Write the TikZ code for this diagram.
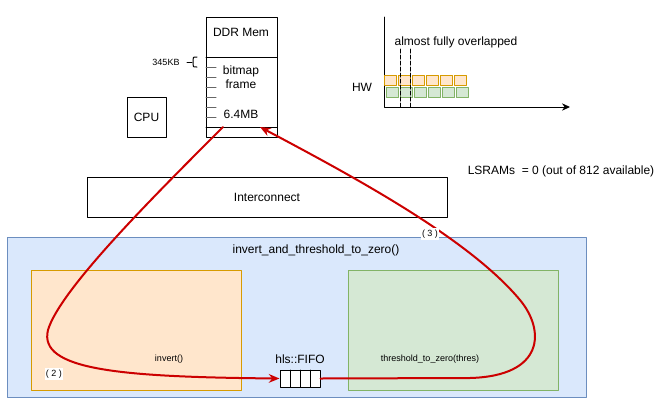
\documentclass[tikz,border=0pt]{standalone}
\usepackage{fontspec}
\setmainfont{Liberation Sans}
\usetikzlibrary{arrows.meta}
\definecolor{flowred}{HTML}{CC0000}
\definecolor{bluefill}{HTML}{DAE8FC}
\definecolor{blueline}{HTML}{6C8EBF}
\definecolor{orangefill}{HTML}{FFE6CC}
\definecolor{orangeline}{HTML}{D79B00}
\definecolor{greenfill}{HTML}{D5E8D4}
\definecolor{greenline}{HTML}{82B366}
\begin{document}
\begin{tikzpicture}[line cap=round, line join=round, x=0.75pt, y=-0.75pt,
        box/.style={draw, line width=0.75pt, inner sep=0pt, font=\fontsize{9}{11}\selectfont},
        small/.style={inner sep=1pt, font=\fontsize{6.75}{8}\selectfont},
        label/.style={inner sep=0.5pt, font=\fontsize{9}{11}\selectfont},
        flow/.style={draw=flowred, line width=1.5pt, -{Stealth[length=8pt, width=6.5pt]}}]
                \useasboundingbox (0, 0) rectangle (669, 405);
                % memory and bus
                \node[box, minimum width=53.25pt, minimum height=90pt] (ddr) at (241.5, 77) {};
                \draw[line width=0.75pt] (206, 57) -- (277, 57) (206, 127) -- (277, 127);
                \foreach \y in {67, 77, 87, 97, 107, 117}
                    \draw[black!60, line width=0.75pt] (206, \y) -- (216, \y);
                \node[box, minimum width=29.25pt, minimum height=30pt] (cpu) at (146.5, 117) {CPU};
                \node[box, minimum width=270pt, minimum height=30pt] (bus) at (267, 197) {Interconnect};
                \foreach \name/\x/\y/\text in {ddrname/241/32/DDR Mem, bitmap/241/71/bitmap, frame/241/84/frame, size/241/114/6.4MB,
                        lsram/561/171/LSRAMs~ = 0 (out of 812 available), overlap/456/42/almost fully overlapped, hw/362/87/HW}
                    \node[label] (\name) at (\x, \y) {\text};
                \node[small] (part) at (166, 62) {345KB};
                \draw[line width=0.75pt] (187, 62) -- (192, 62);
                \draw[line width=0.75pt] (197, 57) .. controls (193, 57) .. (193, 60) -- (193, 64) .. controls (193, 67) .. (197, 67);
                % timeline
                \draw[line width=0.75pt, -{Stealth[length=6pt, width=5.5pt]}] (384, 17) -- (384, 107) -- (570, 107);
                \foreach \i in {0, ..., 5} {
                    \draw[draw=orangeline, fill=orangefill, line width=0.75pt] (384 + 14*\i, 75.5) rectangle +(12, 9.5);
                    \draw[draw=greenline, fill=greenfill, line width=0.75pt] (386 + 14*\i, 87.5) rectangle +(12.5, 10);
                }
                \foreach \x in {400, 410}
                    \draw[line width=0.75pt, dash pattern=on 3pt off 1.5pt] (\x, 49) -- (\x, 107);
                % kernel
                \node[box, draw=blueline, fill=bluefill, minimum width=434.25pt, minimum height=120pt] (kernel) at (296.5, 317.5) {};
                \node[label] (kname) at (316, 250) {invert\_and\_threshold\_to\_zero()};
                \node[box, draw=orangeline, fill=orangefill, minimum width=157.5pt, minimum height=90pt] (inv) at (136, 330) {};
                \node[box, draw=greenline, fill=greenfill, minimum width=157.5pt, minimum height=90pt] (thr) at (453, 330) {};
                \node[small] (invname) at (169, 359) {invert()};
                \node[small] (thrname) at (430, 359) {threshold\_to\_zero(thres)};
                \node[label] (fifoname) at (300, 359) {hls::FIFO};
                \node[box, fill=white, minimum width=30pt, minimum height=12.75pt] (fifo) at (300, 378.5) {};
                \foreach \x in {290, 300, 310}
                    \draw[line width=0.75pt] (\x, 370) -- (\x, 387);
                % data flow
                \coordinate (rd) at (223, 127);
                \coordinate (wr) at (260, 127);
                \draw[flow] (rd) .. controls (150, 200) and (60, 290) .. (48, 330)
                    .. controls (38, 370) and (120, 377) .. (fifo.west);
                \draw[flow] (fifo.east) -- (470, 378) .. controls (545, 376) and (545, 330) .. (520, 300)
                    .. controls (470, 240) and (360, 180) .. (wr);
                \foreach \name/\x/\y/\text in {step2/54/374/( 2 ), step3/430/234/( 3 )}
                    \node[small, fill=white] (\name) at (\x, \y) {\text};
            \end{tikzpicture}
\end{document}
